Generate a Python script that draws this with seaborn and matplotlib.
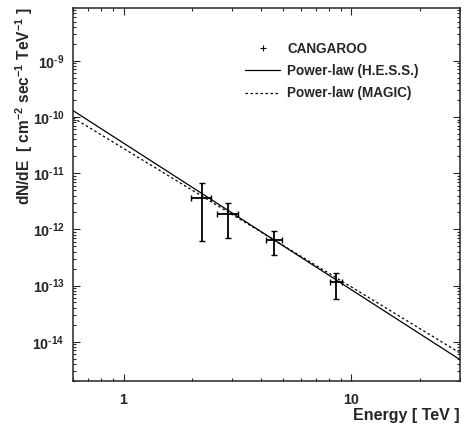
import numpy as np
import matplotlib
matplotlib.use("Agg")
import matplotlib.pyplot as plt
import seaborn as sns
from matplotlib.ticker import FixedLocator, FixedFormatter, NullFormatter, LogLocator, FuncFormatter
from matplotlib.lines import Line2D

# CANGAROO points (energy in TeV, flux in cm^-2 s^-1 TeV^-1)
cg_energy = [2.2, 2.87, 4.58, 8.6]
cg_e_low = [1.98, 2.58, 4.21, 8.1]
cg_e_high = [2.43, 3.17, 4.98, 9.13]
cg_flux = [3.67e-12, 1.9e-12, 6.45e-13, 1.15e-13]
cg_f_low = [6.2e-13, 7.1e-13, 3.48e-13, 5.65e-14]
cg_f_high = [6.6e-12, 3.0e-12, 9.3e-13, 1.7e-13]

# power-law fits, drawn as straight lines in log-log between the range ends
fit_energy = [0.6, 30.0]
hess_flux = [1.3e-10, 4.8e-15]
magic_flux = [9.7e-11, 6.3e-15]

sns.set_style("ticks")
plt.rcParams["font.family"] = ["Liberation Sans", "DejaVu Sans"]
plt.rcParams["font.weight"] = "bold"
plt.rcParams["mathtext.fontset"] = "custom"
plt.rcParams["mathtext.rm"] = "Liberation Sans:bold"
plt.rcParams["mathtext.it"] = "Liberation Sans:bold"
plt.rcParams["mathtext.bf"] = "Liberation Sans:bold"
plt.rcParams["mathtext.default"] = "bf"

fig = plt.figure(figsize=(4.65, 4.34), dpi=100)
ax = fig.add_axes([73 / 465, 1 - 381 / 434, 387 / 465, 373 / 434])

sns.lineplot(x=fit_energy, y=hess_flux, ax=ax, color="black", linewidth=0.9, linestyle="-")
sns.lineplot(x=fit_energy, y=magic_flux, ax=ax, color="black", linewidth=0.9, linestyle=(0, (2, 2)))

e = np.array(cg_energy)
f = np.array(cg_flux)
xerr = [e - np.array(cg_e_low), np.array(cg_e_high) - e]
yerr = [f - np.array(cg_f_low), np.array(cg_f_high) - f]
ax.errorbar(e, f, xerr=xerr, yerr=yerr, fmt="none", ecolor="black",
            elinewidth=1.3, capsize=2.0, capthick=1.0)

ax.set_xscale("log")
ax.set_yscale("log")
ax.set_xlim(0.6, 30)
ax.set_ylim(2.0e-15, 8.7e-9)


def pow_label(v, pos):
    p = int(round(np.log10(v)))
    return r"$10^{\text{%d}}$" % p


ax.xaxis.set_major_locator(FixedLocator([1, 10]))
ax.xaxis.set_major_formatter(FixedFormatter(["1", "10"]))
ax.xaxis.set_minor_locator(LogLocator(base=10, subs=np.arange(2, 10)))
ax.xaxis.set_minor_formatter(NullFormatter())
ax.yaxis.set_major_locator(LogLocator(base=10, numticks=20))
ax.yaxis.set_major_formatter(FuncFormatter(pow_label))
ax.yaxis.set_minor_locator(LogLocator(base=10, subs=np.arange(2, 10), numticks=20))
ax.yaxis.set_minor_formatter(NullFormatter())

ax.tick_params(which="both", direction="in", top=True, right=True, width=0.8, labelsize=10.3)
ax.tick_params(which="major", length=5)
ax.tick_params(which="minor", length=2.5)
ax.tick_params(axis="x", pad=9)
ax.tick_params(axis="y", pad=6)
for s in ax.spines.values():
    s.set_linewidth(1.1)
for lab in ax.get_xticklabels() + ax.get_yticklabels():
    lab.set_fontweight("bold")

ax.set_xlabel("")
ax.set_ylabel("")
fig.text(460 / 465, 1 - 420 / 434, "Energy [ TeV ]", ha="right", va="baseline",
         fontsize=11.5, fontweight="bold")
fig.text(30 / 465, 1 - 7 / 434,
         r"dN/dE  [ cm$^{-2}$ sec$^{-1}$ TeV$^{-1}$ ]", rotation=90,
         rotation_mode="anchor", ha="right", va="baseline",
         fontsize=11.2, fontweight="bold")

handles = [
    Line2D([], [], color="black", marker="+", markersize=5, linestyle="none", markeredgewidth=0.8),
    Line2D([], [], color="black", linewidth=0.9),
    Line2D([], [], color="black", linewidth=0.9, linestyle=(0, (2, 2))),
]
labels = ["CANGAROO", "Power-law (H.E.S.S.)", "Power-law (MAGIC)"]
fig.legend(handles, labels, loc="upper left", bbox_to_anchor=(233 / 465, 1 - 29.5 / 434),
           frameon=False, handlelength=2.6, handletextpad=0.5,
           labelspacing=0.62, prop={"weight": "bold", "size": 9.75})

fig.savefig("out.png", dpi=100)
